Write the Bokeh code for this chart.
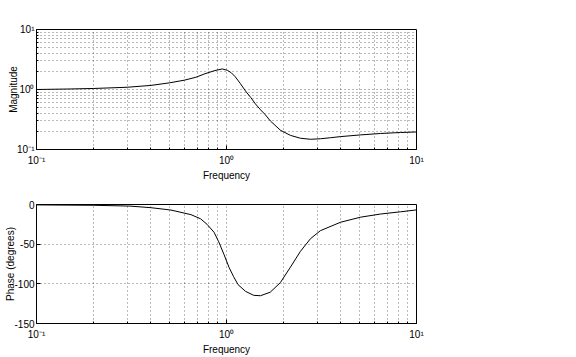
from bokeh.plotting import figure
from bokeh.layouts import column
from bokeh.models import Range1d, FixedTicker
from bokeh.embed import file_html
from bokeh.resources import INLINE

# Magnitude response
mag_freq = [0.1, 0.15, 0.2, 0.3, 0.4, 0.5, 0.6, 0.69, 0.77, 0.87, 0.95, 1.01,
            1.06, 1.11, 1.18, 1.26, 1.34, 1.42, 1.51, 1.6, 1.7, 1.92, 2.17,
            2.45, 2.77, 3.12, 3.52, 3.98, 5.07, 6.47, 8.24, 10.0]
mag = [1.0, 1.02, 1.04, 1.09, 1.17, 1.29, 1.43, 1.6, 1.83, 2.07, 2.2, 2.09,
       1.9, 1.64, 1.27, 0.94, 0.74, 0.575, 0.46, 0.38, 0.3, 0.21, 0.172,
       0.154, 0.148, 0.151, 0.157, 0.164, 0.175, 0.185, 0.192, 0.196]

# Phase response
ph_freq = [0.1, 0.2, 0.31, 0.4, 0.51, 0.65, 0.73, 0.79, 0.86, 0.91, 0.97, 1.03,
           1.09, 1.15, 1.26, 1.39, 1.51, 1.7, 1.92, 2.17, 2.45, 2.77, 3.12,
           3.98, 5.07, 6.47, 8.24, 10.0]
phase = [-0.5, -1.0, -2.0, -4.0, -7.0, -12.8, -18.0, -25.0, -35.0, -47.0, -63.0,
         -79.0, -91.0, -101.0, -109.5, -114.5, -115.0, -110.5, -98.5, -79.0,
         -59.0, -43.0, -33.0, -22.4, -16.0, -12.0, -9.2, -6.8]

# Ticks and tick labels
decade_ticks = [0.1, 1.0, 10.0]
decade_labels = ["10\u207b\u00b9", "10\u2070", "10\u00b9"]
decade_minor = [0.2, 0.3, 0.4, 0.5, 0.6, 0.7, 0.8, 0.9,
                2.0, 3.0, 4.0, 5.0, 6.0, 7.0, 8.0, 9.0]
phase_ticks = [-150, -100, -50, 0]
phase_labels = ["-150", "-100", "-50", "0"]

FONT = "Liberation Sans"
GRID_ALPHA = 0.55


def log_ticks(ax):
    ax.ticker = FixedTicker(ticks=decade_ticks, minor_ticks=decade_minor)
    ax.major_label_overrides = dict(zip(decade_ticks, decade_labels))


def style(p, linear_y=False):
    p.background_fill_color = "white"
    p.border_fill_color = "white"
    p.outline_line_color = "black"
    p.outline_line_alpha = 1.0
    p.outline_line_width = 1
    for ax in p.axis:
        ax.axis_line_color = "black"
        ax.major_tick_line_color = "black"
        ax.minor_tick_line_color = "black"
        ax.major_tick_in = 4
        ax.major_tick_out = 0
        ax.minor_tick_in = 2
        ax.minor_tick_out = 0
        ax.major_label_text_font = FONT
        ax.major_label_text_font_size = "10px"
        ax.major_label_text_color = "black"
        ax.axis_label_text_font = FONT
        ax.axis_label_text_font_size = "10px"
        ax.axis_label_text_font_style = "normal"
        ax.axis_label_text_color = "black"
    for ax in p.xaxis:
        ax.major_label_standoff = 5
        ax.axis_label_standoff = 1
    for ax in p.yaxis:
        ax.major_label_standoff = 2
        ax.axis_label_standoff = -5
    for g in (p.xgrid, p.ygrid):
        g.grid_line_color = "black"
        g.grid_line_alpha = GRID_ALPHA
        g.grid_line_dash = "1 3"
        g.grid_line_width = 1
    p.xgrid.minor_grid_line_color = "black"
    p.xgrid.minor_grid_line_alpha = GRID_ALPHA
    p.xgrid.minor_grid_line_dash = "1 3"
    if not linear_y:
        p.ygrid.minor_grid_line_color = "black"
        p.ygrid.minor_grid_line_alpha = GRID_ALPHA
        p.ygrid.minor_grid_line_dash = "1 3"


p1 = figure(width=576, height=183, x_axis_type="log", y_axis_type="log",
            x_range=Range1d(0.1, 10), y_range=Range1d(0.1, 10),
            output_backend="svg", toolbar_location=None,
            min_border_left=36, min_border_right=160,
            min_border_top=29, min_border_bottom=29)
p1.line(mag_freq, mag, line_color="black", line_width=1)
p1.xaxis.axis_label = "Frequency"
p1.yaxis.axis_label = "Magnitude"
log_ticks(p1.xaxis[0])
log_ticks(p1.yaxis[0])
style(p1)

p2 = figure(width=576, height=174, x_axis_type="log",
            x_range=Range1d(0.1, 10), y_range=Range1d(-150, 0),
            output_backend="svg", toolbar_location=None,
            min_border_left=36, min_border_right=160,
            min_border_top=21, min_border_bottom=28)
p2.line(ph_freq, phase, line_color="black", line_width=1)
p2.xaxis.axis_label = "Frequency"
p2.yaxis.axis_label = "Phase (degrees)"
log_ticks(p2.xaxis[0])
p2.yaxis.ticker = FixedTicker(ticks=phase_ticks, minor_ticks=[])
p2.yaxis.major_label_overrides = dict(zip(phase_ticks, phase_labels))
style(p2, linear_y=True)
p2.yaxis.minor_tick_in = 0

layout = column(p1, p2)

open("out.html", "w").write(file_html(layout, INLINE))
